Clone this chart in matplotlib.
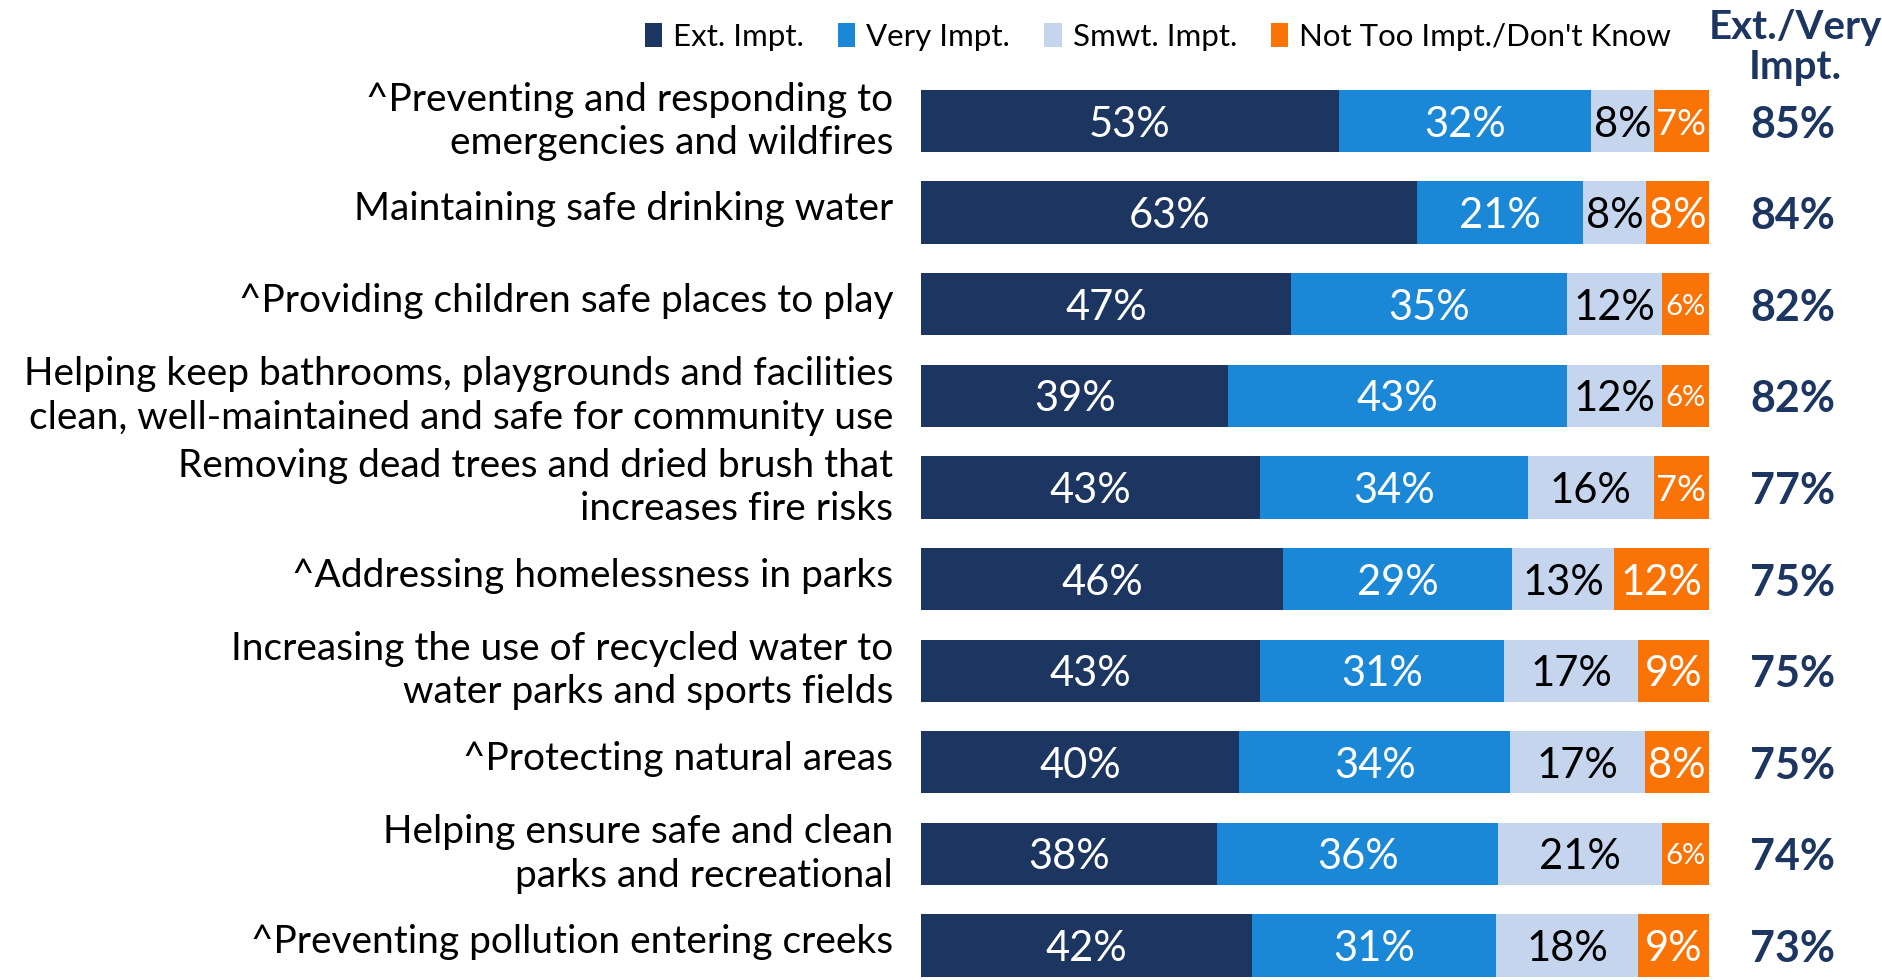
import matplotlib
matplotlib.use("Agg")
import matplotlib.pyplot as plt
import matplotlib.transforms as mtransforms
import numpy as np
from matplotlib.patches import Patch

plt.rcParams['font.family'] = ['Lato', 'DejaVu Sans']

categories = [
    "^Preventing and responding to\nemergencies and wildfires",
    "Maintaining safe drinking water",
    "^Providing children safe places to play",
    "Helping keep bathrooms, playgrounds and facilities\nclean, well-maintained and safe for community use",
    "Removing dead trees and dried brush that\nincreases fire risks",
    "^Addressing homelessness in parks",
    "Increasing the use of recycled water to\nwater parks and sports fields",
    "^Protecting natural areas",
    "Helping ensure safe and clean\nparks and recreational",
    "^Preventing pollution entering creeks",
]
ext_impt = [53, 63, 47, 39, 43, 46, 43, 40, 38, 42]
very_impt = [32, 21, 35, 43, 34, 29, 31, 34, 36, 31]
smwt_impt = [8, 8, 12, 12, 16, 13, 17, 17, 21, 18]
not_too = [7, 8, 6, 6, 7, 12, 9, 8, 6, 9]
ext_very = [85, 84, 82, 82, 77, 75, 75, 75, 74, 73]
series_names = ["Ext. Impt.", "Very Impt.", "Smwt. Impt.", "Not Too Impt./Don't Know"]

colors = ["#1D3661", "#1A88D6", "#C5D5EE", "#F97306"]
text_colors = ["white", "white", "black", "white"]
navy = "#1D3661"

W, H = 1883, 980
fig = plt.figure(figsize=(W / 100, H / 100), dpi=100)
ax = fig.add_axes([921 / W, 0.0, (1709 - 921) / W, 1 - 75 / H])

series = np.array([ext_impt, very_impt, smwt_impt, not_too], dtype=float)
totals = series.sum(axis=0)
norm = series / totals * 100
y = np.arange(len(categories))

left = np.zeros(len(categories))
for i in range(4):
    ax.barh(y, norm[i], left=left, height=0.68, color=colors[i], label=series_names[i])
    for j in range(len(categories)):
        v = series[i, j]
        fs = 30 if v >= 8 else (26 if v == 7 else 21)
        ax.text(left[j] + norm[i, j] / 2, y[j], f"{int(v)}%", ha="center", va="center_baseline",
                color=text_colors[i], fontsize=fs)
    left += norm[i]

ax.set_xlim(0, 100)
ax.set_ylim(9 + (980 - 945.5) / 91.6, -(121 - 75) / 91.6)
ax.set_yticks(y)
ax.set_yticklabels(categories, fontsize=28, linespacing=1.25)
ax.tick_params(axis="y", length=0, pad=20)
shift = mtransforms.ScaledTranslation(0, 5 / 72, fig.dpi_scale_trans)
for lbl in ax.get_yticklabels():
    lbl.set_transform(lbl.get_transform() + shift)
ax.set_xticks([])
for s in ax.spines.values():
    s.set_visible(False)

# right column
for j in range(len(categories)):
    ax.text(1.0 + (1793 - 1709) / (1709 - 921), y[j], f"{ext_very[j]}%", transform=ax.get_yaxis_transform(),
            ha="center", va="center_baseline", fontsize=31, fontweight="bold", color=navy)
fig.text(1795 / W, 1 - 27 / H, "Ext./Very", ha="center", va="center", fontsize=29,
         fontweight="bold", color=navy)
fig.text(1795 / W, 1 - 68 / H, "Impt.", ha="center", va="center", fontsize=29,
         fontweight="bold", color=navy)

handles = [Patch(facecolor=c) for c in colors]
fig.legend(handles, series_names, loc="center", bbox_to_anchor=(1158 / W, 1 - 37 / H), ncol=4,
           frameon=False, fontsize=22.5, handlelength=0.55, handleheight=0.8, handletextpad=0.35,
           columnspacing=1.1)

fig.savefig("out.png", dpi=100)
